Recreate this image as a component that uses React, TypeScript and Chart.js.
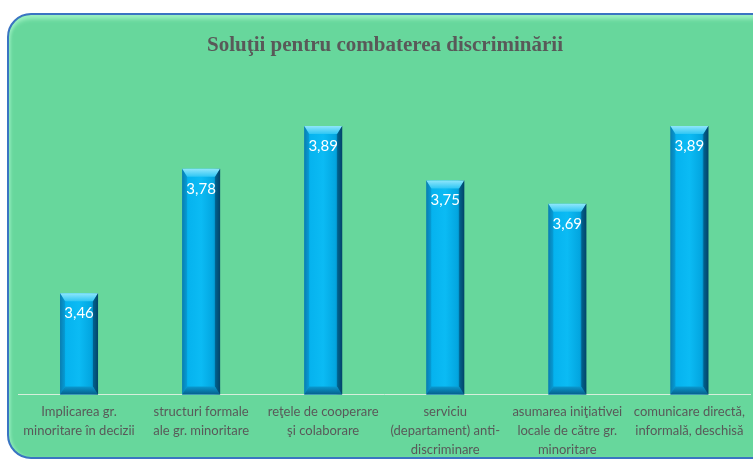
import React, { useEffect, useRef } from "react";
import { Chart, registerables } from "chart.js";

Chart.register(...registerables);

const chartTitle = "Soluţii pentru combaterea discriminării";
const categories: string[][] = [
  ["Implicarea gr.", "minoritare în decizii"],
  ["structuri formale", "ale gr. minoritare"],
  ["reţele de cooperare", "şi colaborare"],
  ["serviciu", "(departament) anti-", "discriminare"],
  ["asumarea iniţiativei", "locale de către gr.", "minoritare"],
  ["comunicare directă,", "informală, deschisă"],
];
const values: number[] = [3.46, 3.78, 3.89, 3.75, 3.69, 3.89];
const yMin = 3.2;
const yMax = 4.0;

const bevelPlugin = {
  id: "bevelBars",
  afterDatasetsDraw(chart: any) {
    const ctx = chart.ctx;
    const meta = chart.getDatasetMeta(0);
    meta.data.forEach((el: any, i: number) => {
      const { x, y, base, width } = el.getProps(["x", "y", "base", "width"], true);
      const x0 = x - width / 2;
      const x1 = x + width / 2;
      const y0 = y;
      const y1 = Math.min(base, chart.chartArea.bottom);
      const s = 5;
      const b = 8;
      ctx.save();
      const g = ctx.createLinearGradient(x0, 0, x1, 0);
      g.addColorStop(0, "#0A86BA");
      g.addColorStop(0.12, "#05B2EE");
      g.addColorStop(0.5, "#0BBBF4");
      g.addColorStop(0.82, "#03A6E0");
      g.addColorStop(0.92, "#0378AA");
      g.addColorStop(1, "#034E74");
      ctx.fillStyle = g;
      ctx.fillRect(x0, y0, x1 - x0, y1 - y0);
      const gt = ctx.createLinearGradient(0, y0, 0, y0 + b);
      gt.addColorStop(0, "#8FE6FB");
      gt.addColorStop(1, "#2EC6F4");
      ctx.fillStyle = gt;
      ctx.beginPath();
      ctx.moveTo(x0, y0);
      ctx.lineTo(x1, y0);
      ctx.lineTo(x1 - s, y0 + b);
      ctx.lineTo(x0 + s, y0 + b);
      ctx.closePath();
      ctx.fill();
      const gb = ctx.createLinearGradient(0, y1 - b, 0, y1);
      gb.addColorStop(0, "#0A9AD0");
      gb.addColorStop(1, "#055F8C");
      ctx.fillStyle = gb;
      ctx.beginPath();
      ctx.moveTo(x0, y1);
      ctx.lineTo(x1, y1);
      ctx.lineTo(x1 - s, y1 - b);
      ctx.lineTo(x0 + s, y1 - b);
      ctx.closePath();
      ctx.fill();
      ctx.fillStyle = "rgba(2,60,95,0.55)";
      ctx.beginPath();
      ctx.moveTo(x1, y0);
      ctx.lineTo(x1 - s, y0 + b);
      ctx.lineTo(x1 - s, y1 - b);
      ctx.lineTo(x1, y1);
      ctx.closePath();
      ctx.fill();
      ctx.fillStyle = "rgba(10,110,160,0.35)";
      ctx.beginPath();
      ctx.moveTo(x0, y0);
      ctx.lineTo(x0 + s, y0 + b);
      ctx.lineTo(x0 + s, y1 - b);
      ctx.lineTo(x0, y1);
      ctx.closePath();
      ctx.fill();
      ctx.fillStyle = "#FFFFFF";
      ctx.font = "15px Lato, 'Open Sans', sans-serif";
      ctx.textAlign = "center";
      ctx.textBaseline = "middle";
      ctx.fillText(values[i].toFixed(2).replace(".", ","), x, y0 + 20);
      ctx.restore();
    });
  },
};

export default function App() {
  const ref = useRef<HTMLCanvasElement>(null);
  useEffect(() => {
    if (!ref.current) return;
    const chart = new Chart(ref.current, {
      type: "bar",
      data: {
        labels: categories as any,
        datasets: [
          {
            data: values,
            base: yMin,
            backgroundColor: "rgba(0,0,0,0)",
            borderWidth: 0,
            barThickness: 38,
          } as any,
        ],
      },
      options: {
        animation: false,
        responsive: false,
        layout: { padding: { left: 18, right: 1, top: 33, bottom: 0 } },
        plugins: {
          legend: { display: false },
          tooltip: { enabled: false },
          title: {
            display: true,
            text: chartTitle,
            color: "#595959",
            font: { family: "'Liberation Serif', 'Times New Roman', serif", size: 21, weight: "bold" },
            padding: { top: 0, bottom: 25 },
          },
        },
        scales: {
          x: {
            grid: { display: false, drawTicks: false },
            border: { display: true, color: "#D6EEDC", width: 1 },
            ticks: {
              color: "#595959",
              font: { family: "Lato, 'Open Sans', sans-serif", size: 13, lineHeight: 1.45 },
              padding: 8,
              maxRotation: 0,
              autoSkip: false,
            },
          },
          y: {
            display: false,
            min: yMin,
            max: yMax,
          },
        },
      },
      plugins: [bevelPlugin],
    });
    return () => chart.destroy();
  }, []);
  return (
    <div style={{ position: "fixed", left: 0, top: 0, width: 753, height: 460, overflow: "hidden", background: "#fff" }}>
      <div
        style={{
          position: "absolute",
          left: 7,
          top: 13,
          width: 780,
          height: 446,
          borderRadius: 24,
          border: "2.5px solid #3A74C2",
          background: "#67D79C",
          boxShadow: "inset 0 6px 4px -2px #9AF0C0, inset 3px 0 3px -1px #8CE8B6",
          boxSizing: "border-box",
        }}
      />
      <canvas ref={ref} width={753} height={467} style={{ position: "absolute", left: 0, top: 0 }} />
    </div>
  );
}
